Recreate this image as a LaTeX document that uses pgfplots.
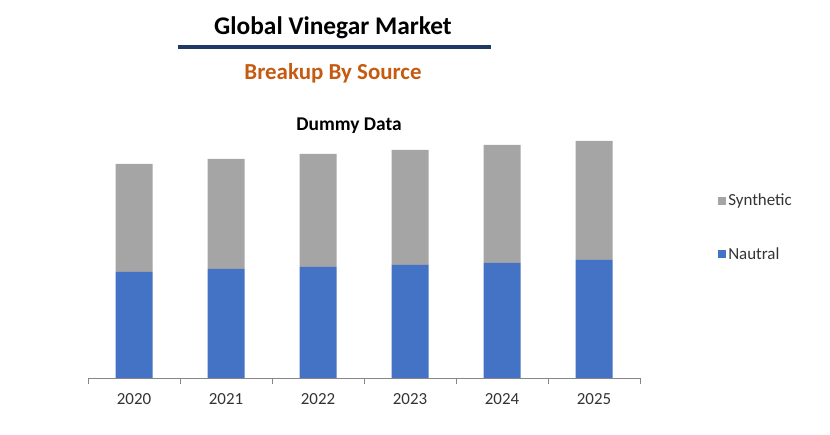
\documentclass[border=0pt]{standalone}
\usepackage{pgfplots}
\pgfplotsset{compat=1.18}
\usepackage{fontspec}
\setmainfont{Carlito}
\definecolor{cblue}{HTML}{4472C4}
\definecolor{cgray}{HTML}{A5A5A5}
\definecolor{corange}{HTML}{C55A11}
\definecolor{cnavy}{HTML}{1F3864}
\definecolor{ctext}{HTML}{333333}
\definecolor{caxis}{HTML}{868686}
\begin{document}
\begin{tikzpicture}[x=1bp,y=1bp]
\path[use as bounding box] (0,0) rectangle (830,435);
\node[font=\bfseries\fontsize{25.5}{30}\selectfont] at (333,435-28) {Global Vinegar Market};
\draw[cnavy, line width=4bp] (178,435-47) -- (491,435-47);
\node[font=\bfseries\fontsize{23}{27}\selectfont, text=corange] at (333,435-73) {Breakup By Source};
\node[font=\bfseries\fontsize{19.5}{23}\selectfont] at (349,435-126) {Dummy Data};
\begin{axis}[
  at={(88bp,57bp)}, anchor=south west,
  scale only axis, width=552bp, height=248bp,
  ybar stacked, bar width=37bp,
  xmin=-0.5, xmax=5.5, ymin=0, ymax=248,
  axis y line=none, axis x line*=bottom,
  x axis line style={caxis, -},
  xtick={0,1,2,3,4,5},
  xticklabels={2020,2021,2022,2023,2024,2025},
  major x tick style={draw=none},
  minor xtick={-0.5,0.5,1.5,2.5,3.5,4.5,5.5},
  minor x tick style={caxis},
  minor tick length=6bp,
  xtick pos=bottom, xtick align=outside,
  xticklabel style={font=\fontsize{17}{20}\selectfont, text=ctext, yshift=-8bp},
  /pgf/number format/assume math mode=true,
  legend style={at={(1.136,0.758)}, anchor=north west, draw=none, fill=none,
    font=\fontsize{17}{20}\selectfont, text=ctext, row sep=36bp, cells={anchor=west}},
  reverse legend,
]
\addplot[fill=cblue, draw=none, legend image code/.code={\fill[cblue] (2bp,-4bp) rectangle (10bp,4bp);}]
  coordinates {(0,106) (1,109) (2,111) (3,113) (4,115) (5,118)};
\addlegendentry{Nautral}
\addplot[fill=cgray, draw=none, legend image code/.code={\fill[cgray] (2bp,-4bp) rectangle (10bp,4bp);}]
  coordinates {(0,108) (1,110) (2,113) (3,115) (4,118) (5,119)};
\addlegendentry{Synthetic}
\end{axis}
\end{tikzpicture}
\end{document}
